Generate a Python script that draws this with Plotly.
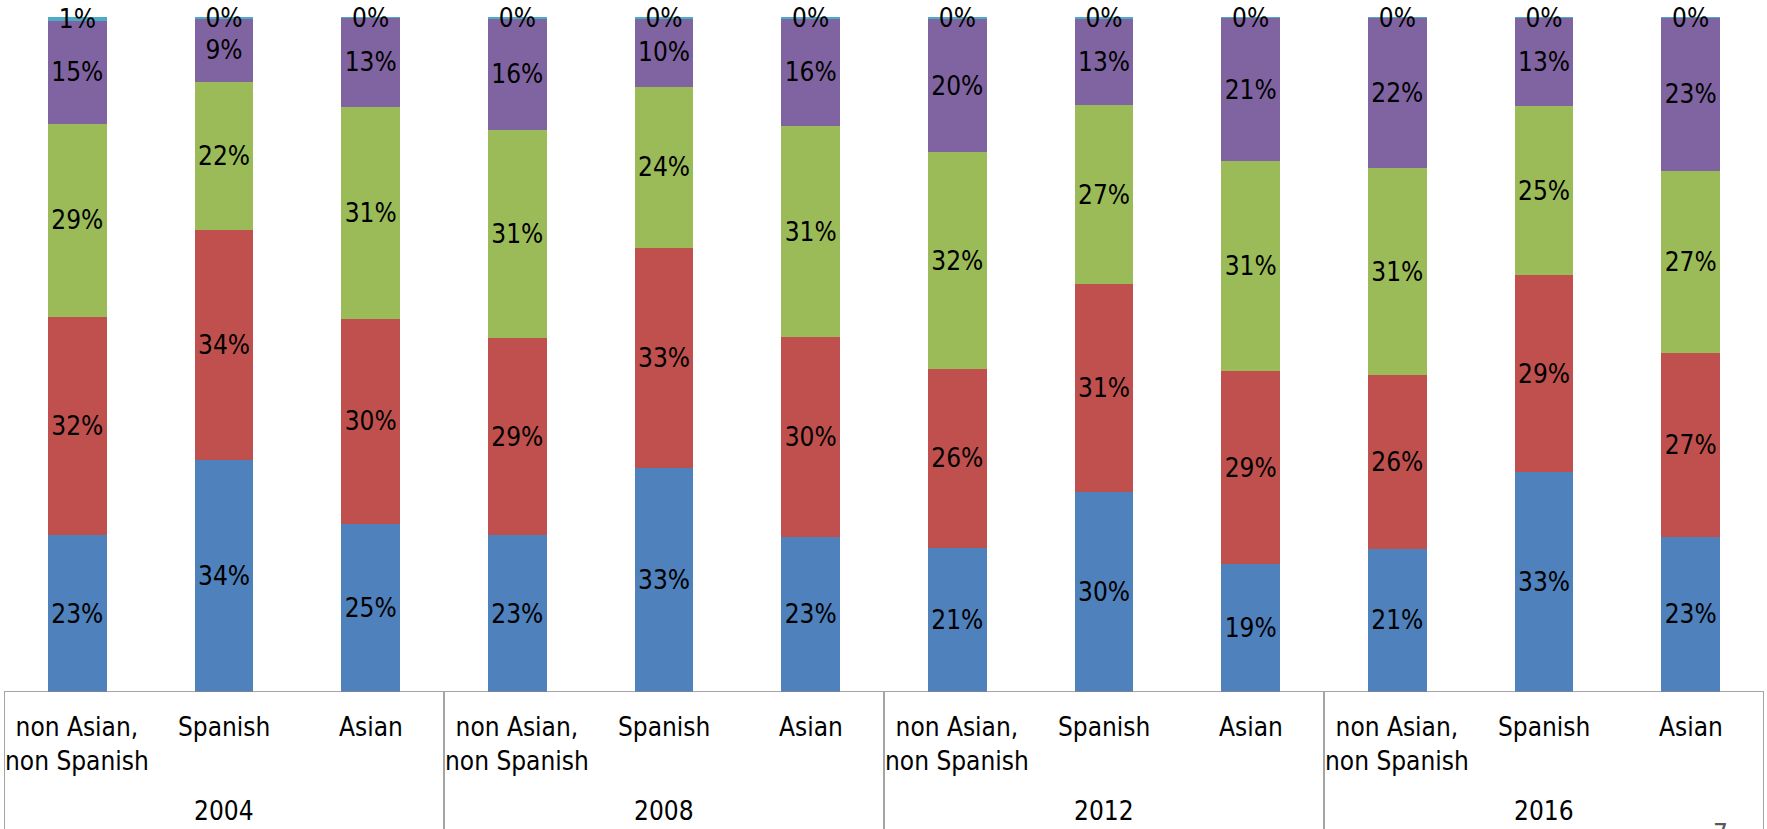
import plotly.graph_objects as go

# Survey shares by year and group (percent of respondents per bar)
years = ["2004", "2008", "2012", "2016"]
groups = ["non Asian,<br>non Spanish", "Spanish", "Asian"]

blue_vals = [23.2, 34.4, 24.9, 23.2, 33.2, 23.0, 21.4, 29.7, 18.9, 21.2, 32.6, 23.0]
red_vals = [32.4, 34.1, 30.4, 29.3, 32.6, 29.6, 26.4, 30.7, 28.6, 25.7, 29.15, 27.2]
green_vals = [28.6, 21.9, 31.4, 30.8, 23.9, 31.2, 32.2, 26.6, 31.1, 30.7, 25.0, 27.0]
purple_vals = [15.2, 9.3, 13.2, 16.4, 10.1, 16.0, 19.7, 12.8, 21.3, 22.35, 13.2, 22.7]
cyan_vals = [0.6, 0.3, 0.1, 0.3, 0.2, 0.2, 0.3, 0.2, 0.1, 0.05, 0.05, 0.1]

series = [
    ("blue", blue_vals, "#4F81BD"),
    ("red", red_vals, "#C0504D"),
    ("green", green_vals, "#9BBB59"),
    ("purple", purple_vals, "#8064A2"),
    ("cyan", cyan_vals, "#4BACC6"),
]

FONT = "DejaVu Sans Condensed, DejaVu Sans, sans-serif"
W, H = 1767, 829
ML, MR, MT, MB = 4, 3, 17, 137
plot_h = H - MT - MB

n_bars = len(years) * len(groups)
xpos = list(range(n_bars))

fig = go.Figure()
for name, vals, color in series:
    fig.add_trace(go.Bar(
        x=xpos, y=vals, name=name, width=0.4,
        marker=dict(color=color, line=dict(width=0)),
        texttemplate="%{y:.0f}%", textposition="inside",
        insidetextanchor="middle", textangle=0,
        textfont=dict(family=FONT, size=26, color="black"),
        cliponaxis=False, showlegend=False, hoverinfo="skip",
    ))


def paper_y(px):
    """Convert a page pixel row into paper coordinates."""
    return (H - MB - px) / plot_h


line_col = "#878787"
shapes = [dict(type="line", xref="x", yref="y", x0=-0.5, x1=n_bars - 0.5, y0=0, y1=0,
               line=dict(color=line_col, width=1.5))]
for k in range(len(years) + 1):
    xb = k * len(groups) - 0.5
    shapes.append(dict(type="line", xref="x", yref="paper", x0=xb, x1=xb,
                       y0=0, y1=paper_y(H), line=dict(color=line_col, width=1.5)))

annotations = []
for yi, yr in enumerate(years):
    for gi, g in enumerate(groups):
        idx = yi * len(groups) + gi
        two_line = "<br>" in g
        annotations.append(dict(
            x=idx, y=paper_y(743.5 if two_line else 727), xref="x", yref="paper",
            text=g, showarrow=False, yanchor="middle", align="center",
            font=dict(family=FONT, size=26, color="black"),
        ))
    annotations.append(dict(
        x=yi * len(groups) + 1, y=paper_y(811), xref="x", yref="paper",
        text=yr, showarrow=False, yanchor="middle",
        font=dict(family=FONT, size=26, color="black"),
    ))

# slide page number at the lower right
annotations.append(dict(
    x=(1720 - ML) / (W - ML - MR), y=paper_y(817), xref="paper", yref="paper",
    text="7", showarrow=False, yanchor="top", xanchor="center",
    font=dict(family=FONT, size=26, color="#595959"),
))

fig.update_layout(
    width=W, height=H, autosize=False,
    margin=dict(l=ML, r=MR, t=MT, b=MB, pad=0),
    barmode="stack",
    paper_bgcolor="white", plot_bgcolor="white",
    xaxis=dict(range=[-0.5, n_bars - 0.5], visible=False, fixedrange=True),
    # a hair above 100 so floating-point stack totals stay inside the range
    yaxis=dict(range=[0, 100.001], visible=False, fixedrange=True),
    uniformtext=dict(mode="show", minsize=26),
    shapes=shapes, annotations=annotations,
)

fig.write_html("out.html", config={"displayModeBar": False})
